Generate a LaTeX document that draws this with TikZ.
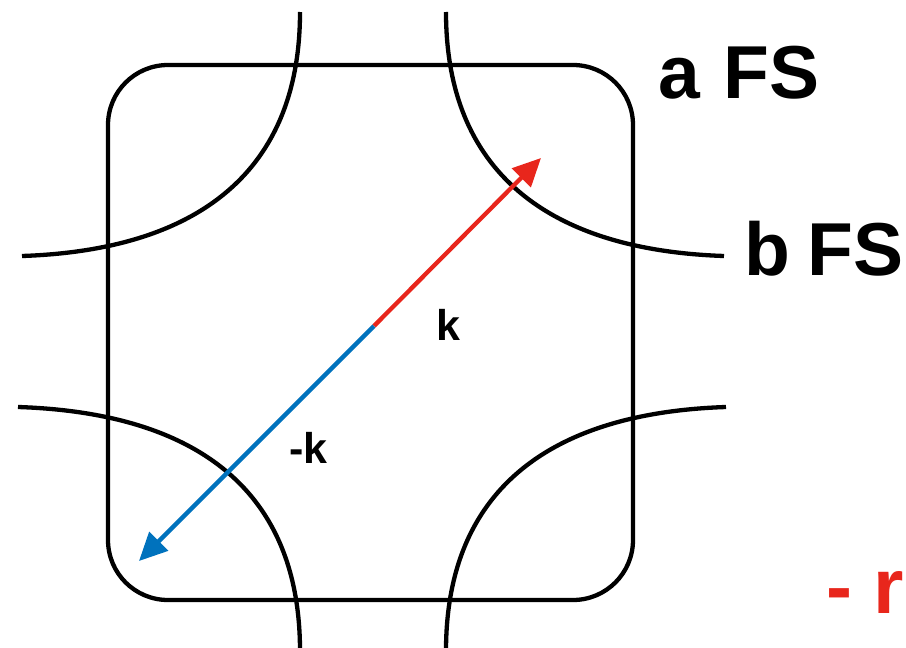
\documentclass[tikz,border=0pt]{standalone}
\usepackage{fontspec}
\setmainfont{Liberation Sans}
\usetikzlibrary{arrows.meta}
\definecolor{kred}{RGB}{232,38,28}
\definecolor{kblue}{RGB}{0,114,189}
\tikzset{
  fs/.style={line width=4.3pt,black},
  vec/.style={line width=4.3pt,-{Triangle[length=28pt,width=26pt]}},
  lab/.style={font=\bfseries\fontsize{75}{75}\selectfont,anchor=base west,inner sep=0pt},
  klab/.style={font=\bfseries\fontsize{43}{43}\selectfont,anchor=base west,inner sep=0pt}
}
\begin{document}
\begin{tikzpicture}[x=1pt,y=-1pt]
\clip (0,0) rectangle (906,648);
\fill[white] (0,0) rectangle (906,648);
% Brillouin zone
\draw[fs,rounded corners=60pt] (108,65) rectangle (633,600);
% Fermi surface curves
\draw[fs] (22,256) .. controls (200,250) and (300,170) .. (300,12);
\draw[fs] (724,256) .. controls (546,250) and (446,170) .. (446,12);
\draw[fs] (18,407) .. controls (200,413) and (300,493) .. (300,651);
\draw[fs] (726,407) .. controls (546,413) and (446,493) .. (446,651);
% vectors
\coordinate (c) at (374,326);
\coordinate (kend) at (541,158);
\coordinate (mkend) at (139,561);
\draw[vec,kred] (c) -- (kend);
\draw[vec,kblue] (c) -- (mkend);
% labels
\node[klab] (k) at (436,340) {k};
\node[klab] (mk) at (289,463) {-k};
\node[lab] (afs) at (658,98) {a\hspace{24pt}FS};
\node[lab] (bfs) at (744,275) {b\hspace{-3pt} FS};
\node[lab,font=\bfseries\fontsize{78}{78}\selectfont,text=kred] (rem) at (826,613) {- r};
\end{tikzpicture}
\end{document}
